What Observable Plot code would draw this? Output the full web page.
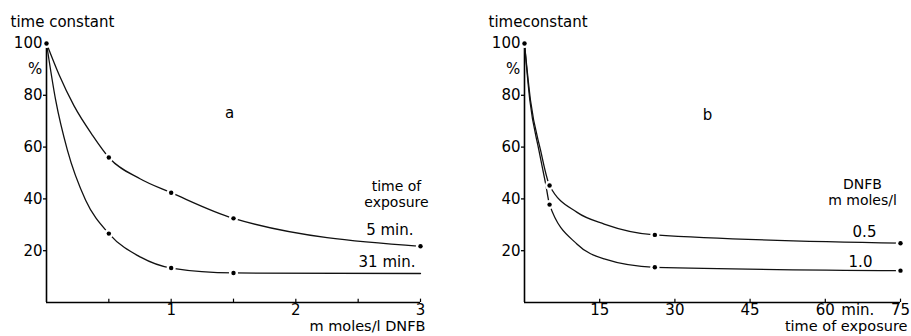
<!DOCTYPE html>
<html>
<head>
<meta charset="utf-8">
<script src="https://cdn.jsdelivr.net/npm/d3@7"></script>
<script src="https://cdn.jsdelivr.net/npm/@observablehq/plot@0.6"></script>
<style>
  html, body { margin: 0; padding: 0; background: #fff; }
  #wrap { display: flex; width: 911px; height: 336px; overflow: hidden; }
</style>
</head>
<body>
<div id="wrap"></div>
<script>
// ---------- data ----------
// Panel a: x = m moles/l DNFB, y = time constant (%)
const a5x  = [0, 0.1, 0.22, 0.37, 0.5, 0.75, 1, 1.5, 3];
const a5y  = [100, 88, 76, 64.5, 56, 47.8, 42.4, 32.5, 21.7];
const a31x = [0, 0.074, 0.167, 0.314, 0.5, 0.755, 1, 1.5, 3];
const a31y = [100, 78, 58.9, 39.5, 26.6, 17.5, 13.3, 11.4, 11.2];
const a5DotX  = [0, 0.5, 1, 1.5, 3];
const a5DotY  = [100, 56, 42.4, 32.5, 21.7];
const a31DotX = [0.5, 1, 1.5];
const a31DotY = [26.6, 13.3, 11.4];
const aTicks = [1, 2, 3];
const aMinorTicks = [0.5, 1, 1.5, 2, 2.5, 3];
const aSeriesLabels = ["5 min.", "31 min."];

// Panel b: x = time of exposure (min), y = time constant (%)
const b05x = [0, 1.2, 3.2, 5, 10.5, 15.9, 26, 75];
const b05y = [100, 78, 58.8, 45.2, 34.8, 30.3, 26.1, 22.9];
const b10x = [0, 1.07, 2.87, 4.2, 5, 10.5, 15.9, 26, 75];
const b10y = [100, 78, 58.8, 46, 37.8, 22.5, 16.8, 13.6, 12.3];
const b05DotX = [0, 5, 26, 75];
const b05DotY = [100, 45.2, 26.1, 22.9];
const b10DotX = [5, 26, 75];
const b10DotY = [37.8, 13.6, 12.3];
const bTicks = [15, 30, 45, 60, 75];
const bSeriesLabels = ["0.5", "1.0"];

const yTicks = [20, 40, 60, 80, 100];

// ---------- texts ----------
const aYTitle = ["time constant"];
const bYTitle = ["timeconstant"];
const yUnit = ["%"];
const aPanel = ["a"];
const bPanel = ["b"];
const aLegendTitle = ["time of\nexposure"];
const bLegendTitle = ["DNFB\nm moles/l"];
const aXTitle = ["m moles/l DNFB"];
const bXTitle = ["time of exposure"];
const bXUnit = ["min."];

// ---------- helpers ----------
const FONT = "DejaVu Sans, Liberation Sans, sans-serif";
const FS = 15;
const zip = (xs, ys) => xs.map((x, i) => ({x, y: ys[i]}));
const ident = d => d;

function dots(pts) {
  return [
    Plot.dot(pts, {x: "x", y: "y", r: 4.6, fill: "white", stroke: null}),
    Plot.dot(pts, {x: "x", y: "y", r: 2.2, fill: "#000", stroke: null})
  ];
}

function commonMarks(yTitle) {
  return [
    Plot.axisY(yTicks, {tickSize: 3, tickPadding: 1, fontSize: FS, label: null, strokeWidth: 1.3, tickFormat: "d"}),
    Plot.text(yTitle, {text: ident, frameAnchor: "top-left", textAnchor: "start", dx: -36, dy: -27, fontSize: FS}),
    Plot.text(yUnit, {text: ident, frameAnchor: "top-left", textAnchor: "middle", dx: -11.5, dy: 20, fontSize: FS})
  ];
}

// ---------- panel a ----------
const a5 = zip(a5x, a5y), a31 = zip(a31x, a31y);
const a5Last = a5[a5.length - 1], a31Last = a31[a31.length - 1];
const plotA = Plot.plot({
  width: 460, height: 336,
  marginLeft: 46, marginRight: 40, marginTop: 43, marginBottom: 34,
  x: {domain: [0, 3]},
  y: {domain: [0, 100]},
  style: {fontFamily: FONT, fontSize: FS + "px", background: "white", color: "#000", overflow: "visible"},
  marks: [
    ...commonMarks(aYTitle),
    Plot.axisX(aTicks, {tickSize: 0, tickPadding: 1.5, fontSize: FS, label: null, tickFormat: "d"}),
    Plot.ruleX(aMinorTicks, {y1: 0, y2: 1.3, strokeWidth: 1.2}),
    Plot.ruleX([0], {y1: 0, y2: 100, strokeWidth: 1.6}),
    Plot.ruleY([0], {x1: 0, x2: 3, strokeWidth: 1.6}),
    Plot.line(a5, {x: "x", y: "y", curve: "monotone-x", stroke: "#111", strokeWidth: 1.3}),
    Plot.line(a31, {x: "x", y: "y", curve: "monotone-x", stroke: "#111", strokeWidth: 1.3}),
    ...dots(zip(a31DotX, a31DotY)),
    ...dots(zip(a5DotX, a5DotY)),
    Plot.text([a5Last], {x: "x", y: "y", text: () => aSeriesLabels[0], textAnchor: "end", dx: -7, dy: -16, fontSize: FS}),
    Plot.text([a31Last], {x: "x", y: "y", text: () => aSeriesLabels[1], textAnchor: "end", dx: -5, dy: -11, fontSize: FS}),
    Plot.text(aPanel, {text: ident, frameAnchor: "top-left", textAnchor: "middle", dx: 183, dy: 64, fontSize: FS}),
    Plot.text(aLegendTitle, {text: ident, frameAnchor: "top-left", textAnchor: "middle", dx: 350, dy: 136.5, lineHeight: 1.12, fontSize: 14}),
    Plot.text(aXTitle, {text: ident, frameAnchor: "bottom-right", textAnchor: "end", dx: 5, dy: 28.5, fontSize: 14.5})
  ]
});

// ---------- panel b ----------
const b05 = zip(b05x, b05y), b10 = zip(b10x, b10y);
const b05Last = b05[b05.length - 1], b10Last = b10[b10.length - 1];
const plotB = Plot.plot({
  width: 451, height: 336,
  marginLeft: 64, marginRight: 11, marginTop: 43, marginBottom: 34,
  x: {domain: [0, 75]},
  y: {domain: [0, 100]},
  style: {fontFamily: FONT, fontSize: FS + "px", background: "white", color: "#000", overflow: "visible"},
  marks: [
    ...commonMarks(bYTitle),
    Plot.axisX(bTicks, {tickSize: 0, tickPadding: 1.5, fontSize: FS, label: null, tickFormat: "d"}),
    Plot.text(bXUnit, {text: ident, x: () => bTicks[3], frameAnchor: "bottom", textAnchor: "start", lineAnchor: "top", dx: 16, dy: 1.5, fontSize: FS}),
    Plot.ruleX(bTicks, {y1: 0, y2: 1.3, strokeWidth: 1.2}),
    Plot.ruleX([0], {y1: 0, y2: 100, strokeWidth: 1.6}),
    Plot.ruleY([0], {x1: 0, x2: 75, strokeWidth: 1.6}),
    Plot.line(b05, {x: "x", y: "y", curve: "monotone-x", stroke: "#111", strokeWidth: 1.3}),
    Plot.line(b10, {x: "x", y: "y", curve: "monotone-x", stroke: "#111", strokeWidth: 1.3}),
    ...dots(zip(b10DotX, b10DotY)),
    ...dots(zip(b05DotX, b05DotY)),
    Plot.text([b05Last], {x: "x", y: "y", text: () => bSeriesLabels[0], textAnchor: "middle", dx: -36, dy: -11, fontSize: FS}),
    Plot.text([b10Last], {x: "x", y: "y", text: () => bSeriesLabels[1], textAnchor: "middle", dx: -40, dy: -8.5, fontSize: FS}),
    Plot.text(bPanel, {text: ident, frameAnchor: "top-left", textAnchor: "middle", dx: 183, dy: 66, fontSize: FS}),
    Plot.text(bLegendTitle, {text: ident, frameAnchor: "top-left", textAnchor: "middle", dx: 338, dy: 134.5, lineHeight: 1.12, fontSize: 14}),
    Plot.text(bXTitle, {text: ident, frameAnchor: "bottom-right", textAnchor: "end", dx: 7, dy: 28.5, fontSize: 14.5})
  ]
});

const wrap = document.getElementById("wrap");
wrap.appendChild(plotA);
wrap.appendChild(plotB);
</script>
</body>
</html>
